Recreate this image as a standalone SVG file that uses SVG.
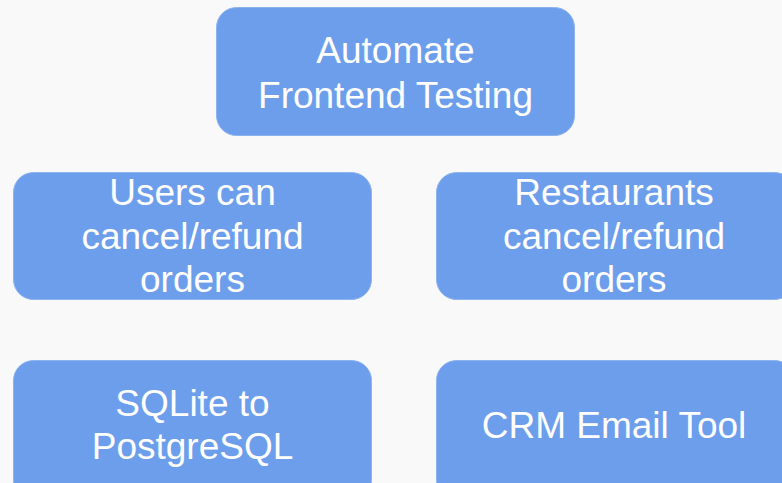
<svg xmlns="http://www.w3.org/2000/svg" width="782" height="483" viewBox="0 0 782 483">
<style>
.box{fill:#6d9eeb;stroke:#8db3ef;stroke-width:1}
.t{font-family:"Liberation Sans",Arial,sans-serif;font-size:37px;fill:#ffffff;text-anchor:middle}
</style>
<rect width="782" height="483" fill="#f9f9f9"/>
<g id="connectors"></g>
<g id="automate">
<rect class="box" x="216.5" y="7.5" width="358" height="128" rx="20"/>
<text class="t" x="395.5" y="63">Automate</text>
<text class="t" x="395.5" y="108">Frontend Testing</text>
</g>
<g id="users">
<rect class="box" x="13.5" y="172.5" width="358" height="127" rx="20"/>
<text class="t" x="192.5" y="205">Users can</text>
<text class="t" x="192.5" y="249">cancel/refund</text>
<text class="t" x="192.5" y="292">orders</text>
</g>
<g id="restaurants">
<rect class="box" x="436.5" y="172.5" width="358" height="127" rx="20"/>
<text class="t" x="614" y="205">Restaurants</text>
<text class="t" x="614" y="249">cancel/refund</text>
<text class="t" x="614" y="292">orders</text>
</g>
<g id="sqlite">
<rect class="box" x="13.5" y="360.5" width="358" height="140" rx="20"/>
<text class="t" x="192.5" y="416">SQLite to</text>
<text class="t" x="192.5" y="459">PostgreSQL</text>
</g>
<g id="crm">
<rect class="box" x="436.5" y="360.5" width="358" height="140" rx="20"/>
<text class="t" x="614" y="438">CRM Email Tool</text>
</g>
</svg>
